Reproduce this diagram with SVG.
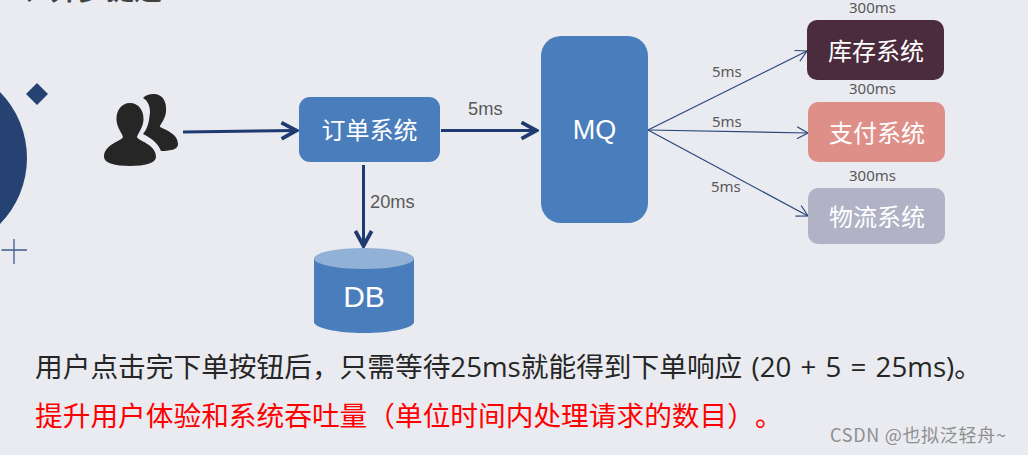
<svg xmlns="http://www.w3.org/2000/svg" width="1028" height="455" viewBox="0 0 1028 455">
<style>
text{font-family:"Noto Sans CJK SC","Liberation Sans",sans-serif}
.w{fill:#fff;text-anchor:middle;font-size:24px}
.lat{font-family:"Liberation Sans","Noto Sans CJK SC",sans-serif}
.big{font-size:30px}
.mq{font-size:27px}
.g{fill:#595959;font-size:15px;font-family:"Noto Sans",sans-serif}
.g2{fill:#595959;font-size:18.300px;font-family:"Liberation Sans",sans-serif}
.body{font-size:27.700px;font-family:"Open Sans","Noto Sans CJK SC",sans-serif;text-spacing-trim:space-all}
.thick{fill:none;stroke:#1f3a70;stroke-width:3}
.thin{fill:none;stroke:#2a4578;stroke-width:1.2}
</style>
<defs>
<marker id="a1" markerUnits="userSpaceOnUse" markerWidth="20" markerHeight="20" refX="14" refY="8" orient="auto" viewBox="0 0 16 16"><path d="M2 1.500L14 8L2 14.500" fill="none" stroke="#1f3a70" stroke-width="3"/></marker>
<marker id="a2" markerUnits="userSpaceOnUse" markerWidth="16" markerHeight="16" refX="13" refY="8" orient="auto" viewBox="0 0 16 16"><path d="M2 2L13 8L2 14" fill="none" stroke="#2a4578" stroke-width="1.2"/></marker>
</defs>
<rect width="1028" height="455" fill="#e9ebf0"/>
<text x="22" y="0" font-size="28" font-weight="700" fill="#404040">、异步提速</text>
<g id="decor">
<circle cx="-67" cy="158" r="94" fill="#264273"/>
<path d="M37 83L48 94L37 105L26 94Z" fill="#264273"/>
<path d="M14 239V264M1.500 250H27" stroke="#3e5a8a" stroke-width="1.300" fill="none"/>
</g>
<g id="users" fill="#262626">
<path d="M153.500 94C163 94 167 102 166 112C165 120 160 124 160 127C166 130 178 134 178 144C178 149 172 151 161 151C158 143 151 138 143 134C148 128 149 122 150 112C150 105 147 100 143 98C146 95 149 94 153.500 94Z"/>
<path d="M130 103C139 103 144 111 143.500 120C143 128 138 133 137 137C138 141 156 144 156 157C156 163 145 166 130 166C115 166 104 163 104 157C104 144 122 141 123 137C122 133 117 128 116.500 120C116 111 121 103 130 103Z"/>
</g>
<g id="connectors">
<path class="thick" d="M183 132L296.500 130.500" marker-end="url(#a1)"/>
<path class="thick" d="M441 130.500H536.500" marker-end="url(#a1)"/>
<path class="thick" d="M363.500 165V246" marker-end="url(#a1)"/>
<path class="thin" d="M648 130L807 51" marker-end="url(#a2)"/>
<path class="thin" d="M648 130L808 133" marker-end="url(#a2)"/>
<path class="thin" d="M648 130L808 216" marker-end="url(#a2)"/>
</g>
<g id="order"><rect x="299" y="97" width="141" height="65" rx="11" fill="#4a7dbb"/><text class="w" x="369.500" y="139">订单系统</text></g>
<g id="mq"><rect x="541" y="36" width="107" height="187" rx="20" fill="#4a7dbb"/><text class="w lat mq" x="594.500" y="139">MQ</text></g>
<g id="db">
<path d="M314 258V322C314 328 337 333 364 333C391 333 414 328 414 322V258Z" fill="#4a7dbb"/>
<ellipse cx="364" cy="258.500" rx="50" ry="10.500" fill="#92b1d6"/>
<text class="w lat big" x="364" y="307">DB</text>
</g>
<g id="stock"><rect x="807" y="20" width="137" height="60" rx="10" fill="#4b2c3c"/><text class="w" x="876" y="60">库存系统</text></g>
<g id="pay"><rect x="808" y="102" width="137" height="60" rx="10" fill="#de8f88"/><text class="w" x="877" y="142">支付系统</text></g>
<g id="logistics"><rect x="808" y="188" width="137" height="56" rx="10" fill="#b1b2c6"/><text class="w" x="877" y="226">物流系统</text></g>
<g id="labels">
<text class="g2" x="468" y="115">5ms</text>
<text class="g2" x="370" y="208">20ms</text>
<text class="g" x="712" y="77">5ms</text>
<text class="g" x="712" y="127">5ms</text>
<text class="g" x="711" y="192">5ms</text>
<text class="g" x="849" y="12.500">300ms</text>
<text class="g" x="849" y="94">300ms</text>
<text class="g" x="849" y="181">300ms</text>
</g>
<text class="body" x="35" y="377" fill="#262626" word-spacing="2">用户点击完下单按钮后，只需等待25ms就能得到下单响应 (20 + 5 = 25ms)。</text>
<text class="body" x="35" y="426" fill="#f00">提升用户体验和系统吞吐量（单位时间内处理请求的数目）。</text>
<text x="830" y="442" font-size="18" letter-spacing="0.700" fill="#8f8f8f">CSDN @也拟泛轻舟~</text>
</svg>
